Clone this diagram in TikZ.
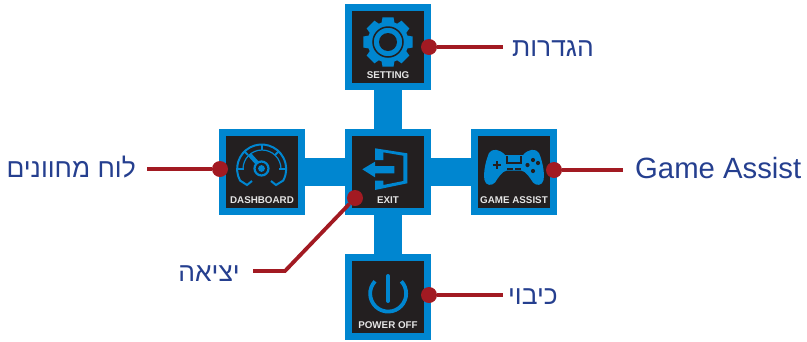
\documentclass[tikz,border=0pt]{standalone}
\usepackage{fontspec}
\setmainfont{Liberation Sans}
\newfontfamily\hebfont[Script=Hebrew]{Liberation Sans}
\TeXXeTstate=1
\definecolor{tileblue}{HTML}{0086D0}
\definecolor{tiledark}{HTML}{231F20}
\definecolor{dotred}{HTML}{A21A22}
\definecolor{labelblue}{HTML}{253F8F}
\tikzset{
  x=1pt,y=-1pt,
  tile/.style={rectangle,draw=tileblue,fill=tiledark,line width=7pt,minimum width=79.5pt,minimum height=79.5pt,inner sep=0pt},
  bar/.style={draw=tileblue,line width=28pt},
  tilecap/.style={font=\bfseries\fontsize{9.8}{10}\selectfont,text=white!90!black,inner sep=0pt,anchor=base},
  dot/.style={circle,fill=dotred,minimum size=16pt,inner sep=0pt},
  lead/.style={draw=dotred,line width=3.8pt},
  lab/.style={font=\fontsize{29.3}{30}\selectfont,text=labelblue,inner sep=0pt},
  heb/.style={font=\fontsize{26.4}{30}\selectfont\hebfont,text=labelblue,inner sep=0pt,anchor=base east},
  ico/.style={fill=tileblue,draw=none},
  icl/.style={draw=tileblue,line width=2pt},
}
\begin{document}
\begin{tikzpicture}
\useasboundingbox (0,0) rectangle (807,341);
\node[tile] (set) at (388,47) {};
\node[tile] (dash) at (262,172) {};
\node[tile] (exit) at (388,172) {};
\node[tile] (game) at (514,172) {};
\node[tile] (pow) at (388,297) {};
\draw[bar] (set.south) -- (exit.north);
\draw[bar] (exit.south) -- (pow.north);
\draw[bar] (dash.east) -- (exit.west);
\draw[bar] (exit.east) -- (game.west);
% gear
\fill[tileblue] (388,42) circle[radius=20.5];
\foreach \a in {0,45,...,315} \fill[tileblue,rotate around={\a:(388,42)}] (382.5,17.3) -- (393.5,17.3) -- (395,26) -- (381,26) -- cycle;
\draw[tiledark,line width=1.5pt] (388,42) circle[radius=15];
\fill[tiledark] (388,42) circle[radius=9];
% speedometer
\draw[icl,line join=miter] (252,181) -- (247,185) -- (240,180.5) arc[start angle=152,delta angle=236,radius=24.5] -- (276,185) -- (271,181);
\draw[icl,line width=1.2pt] (243,169) arc[start angle=180,delta angle=180,radius=19];
\draw[icl] (261.5,144) -- (261.5,150);
\draw[icl] (237,168.5) -- (244,168.5);
\draw[icl] (286,168.5) -- (279,168.5);
\draw[icl] (244,151) -- (248,155);
\draw[icl] (279,151) -- (275,155);
\fill[tileblue] (248,156) -- (251,153) -- (260,163) -- (257,166) -- cycle;
\draw[tileblue,line width=2.2pt,fill=tiledark] (261.5,168.5) circle[radius=7];
\fill[tileblue] (261.5,168.5) circle[radius=3.4];
% exit
\fill[ico] (375,148.3) -- (407.3,153.3) -- (407.3,183.3) -- (375,190) -- (375,180.7) -- (383.3,180.7) -- (383.3,185) -- (403.3,181) -- (403.3,155.7) -- (383.3,152.3) -- (383.3,160) -- (375,160) -- cycle;
\fill[ico] (362.3,169.3) -- (375,161.7) -- (375,166) -- (394.3,166) -- (394.3,173.3) -- (375,173.3) -- (375,177.3) -- cycle;
% gamepad
\fill[tileblue] (505,155) .. controls (500,149) and (492,148) .. (489,153)
 .. controls (486,160) and (483,172) .. (484.5,180)
 .. controls (485.5,186) and (492,186) .. (495,182.5)
 .. controls (498,178) and (502,171) .. (507,170.5)
 -- (521,170.5)
 .. controls (526,171) and (530,178) .. (533,182.5)
 .. controls (536,186) and (542.5,186) .. (543.5,180)
 .. controls (545,172) and (542,160) .. (539,153)
 .. controls (536,148) and (528,149) .. (523,155) -- cycle;
\draw[tiledark,line width=1.2pt] (507,156) -- (507,163) -- (521,163) -- (521,156);
\draw[tiledark,line width=1.2pt] (507,169) -- (513,169) (515,169) -- (521,169);
\draw[tiledark,line width=1.7pt] (492.5,165) -- (501,165) (496.8,161) -- (496.8,169);
\fill[tiledark] (533,160) circle[radius=2.1] (533,171) circle[radius=2.1] (527.5,165) circle[radius=2.1] (538,163) circle[radius=2.1];
% power
\draw[tileblue,line width=3.8pt] (375,281.3) arc[start angle=223,delta angle=-266,radius=18];
\draw[tileblue,line width=4pt,line cap=round] (388,276) -- (388,301);
% captions
\node[tilecap] (capset) at (388,78) {SETTING};
\node[tilecap] (capdash) at (262,203) {DASHBOARD};
\node[tilecap] (capexit) at (388,203) {EXIT};
\node[tilecap] (capgame) at (514,203) {GAME ASSIST};
\node[tilecap] (cappow) at (388,328) {POWER OFF};
% labels
\node[heb] (lset) at (594,56) {\beginR הגדרות\endR};
\node[heb] (ldash) at (136,177) {\beginR לוח מחוונים\endR};
\node[heb] (lexit) at (240,281) {\beginR יציאה\endR};
\node[heb] (lpow) at (558,304) {\beginR כיבוי\endR};
\node[lab,anchor=base west] (lgame) at (635,178) {Game Assist};
% dots
\node[dot] (dset) at (429,47) {};
\node[dot] (ddash) at (220,169) {};
\node[dot] (dexit) at (355,198) {};
\node[dot] (dgame) at (554,170) {};
\node[dot] (dpow) at (429,295) {};
\coordinate (eset) at (503,47);
\coordinate (edash) at (147,169);
\coordinate (eexit) at (253,271);
\coordinate (bexit) at (285,271);
\coordinate (egame) at (623,170);
\coordinate (epow) at (503,295);
\draw[lead] (dset) -- (eset);
\draw[lead] (ddash) -- (edash);
\draw[lead] (dexit) -- (bexit) -- (eexit);
\draw[lead] (dgame) -- (egame);
\draw[lead] (dpow) -- (epow);
\end{tikzpicture}
\end{document}
